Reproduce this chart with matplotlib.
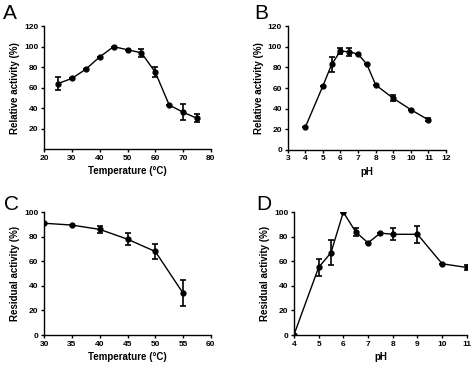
import matplotlib
matplotlib.use("Agg")
import matplotlib.pyplot as plt

# A: temperature optimum
temp_a = [25, 30, 35, 40, 45, 50, 55, 60, 65, 70, 75]
act_a = [64, 69, 78, 90, 100, 97, 94, 75, 43, 36, 30]
err_a = [6, 0, 0, 0, 0, 0, 4, 5, 0, 8, 4]

# B: pH optimum
ph_b = [4, 5, 5.5, 6, 6.5, 7, 7.5, 8, 9, 10, 11]
act_b = [22, 62, 83, 96, 95, 93, 83, 63, 50, 39, 29]
err_b = [0, 0, 7, 3, 4, 0, 0, 0, 3, 0, 1.5]

# C: thermal stability
temp_c = [30, 35, 40, 45, 50, 55]
act_c = [91, 89.5, 86, 78, 68, 34]
err_c = [0, 0, 3, 5, 6, 10.5]

# D: pH stability
ph_d = [4, 5, 5.5, 6, 6.5, 7, 7.5, 8, 9, 10, 11]
act_d = [0, 55, 67, 100, 84, 75, 83, 82, 82, 58, 55]
err_d = [0, 7, 10, 0, 3, 0, 0, 5, 7, 0, 2]

plt.rcParams['font.family'] = ['Liberation Sans', 'DejaVu Sans']

fig = plt.figure(figsize=(4.74, 3.69), dpi=100)


def panel(rect, x, y, err, xlim, xticks, ylim, yticks, xlabel, ylabel, letter, letter_pos):
    ax = fig.add_axes(rect)
    ax.errorbar(x, y, yerr=err, color='black', marker='o', markersize=3.5,
                linewidth=1.0, elinewidth=1.2, capsize=2.5, capthick=1.2)
    ax.set_xlim(*xlim)
    ax.set_ylim(*ylim)
    ax.set_xticks(xticks)
    ax.set_yticks(yticks)
    for s in ['top', 'right']:
        ax.spines[s].set_visible(False)
    for s in ['left', 'bottom']:
        ax.spines[s].set_linewidth(1.0)
    ax.tick_params(direction='out', length=2.5, width=1.0, labelsize=6, pad=1.5)
    for lab in ax.get_xticklabels() + ax.get_yticklabels():
        lab.set_fontweight('bold')
    ax.set_xlabel(xlabel, fontsize=7, fontweight='bold', labelpad=3)
    ax.set_ylabel(ylabel, fontsize=7, fontweight='bold', labelpad=3)
    fig.text(letter_pos[0], letter_pos[1], letter, fontsize=15, ha='left', va='top')
    return ax


panel([0.093, 0.596, 0.352, 0.333], temp_a, act_a, err_a, (20, 80), range(20, 81, 10),
      (0, 120), range(20, 121, 20), 'Temperature (°C)', 'Relative activity (%)', 'A', (0.006, 0.99))
panel([0.607, 0.594, 0.334, 0.335], ph_b, act_b, err_b, (3, 12), range(3, 13),
      (0, 120), range(0, 121, 20), 'pH', 'Relative activity (%)', 'B', (0.536, 0.99))
panel([0.093, 0.092, 0.352, 0.333], temp_c, act_c, err_c, (30, 60), range(30, 61, 5),
      (0, 100), range(0, 101, 20), 'Temperature (°C)', 'Residual activity (%)', 'C', (0.008, 0.472))
panel([0.620, 0.092, 0.365, 0.333], ph_d, act_d, err_d, (4, 11), range(4, 12),
      (0, 100), range(0, 101, 20), 'pH', 'Residual activity (%)', 'D', (0.54, 0.472))

fig.savefig('out.png', dpi=100)
